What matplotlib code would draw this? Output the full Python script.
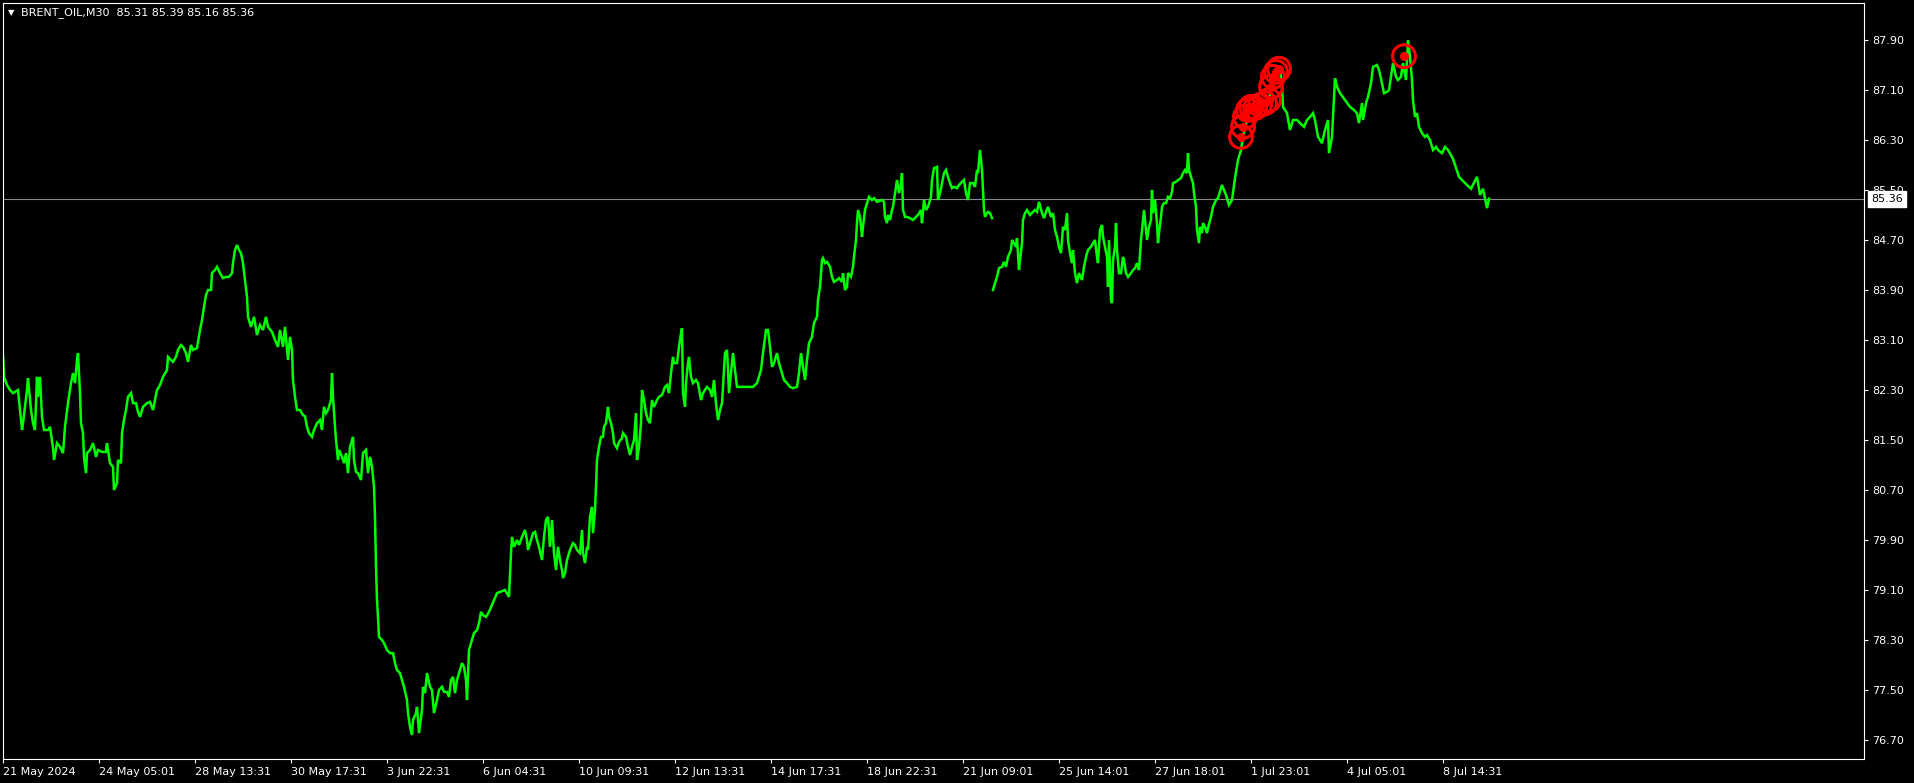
import numpy as np
import matplotlib
matplotlib.use("Agg")
from matplotlib import pyplot as plt

# M30 bar index (0 = first bar on chart) and close price
bars_a = [0, 1, 4, 7, 10, 15, 19, 20, 24, 25, 28, 30, 32, 34, 35, 37, 39, 41, 45, 47,
          50, 51, 54, 57, 60, 62, 65, 68, 70, 72, 74, 75, 77, 78, 80, 81, 83, 84, 87, 90,
          93, 95, 99, 103, 104, 107, 110, 111, 114, 115, 118, 119, 121, 123, 125, 128, 130, 133, 135, 137,
          140, 144, 147, 150, 152, 154, 157, 160, 164, 165, 168, 170, 173, 175, 178, 180, 183, 185, 188, 190,
          194, 197, 199, 201, 203, 205, 208, 209, 212, 214, 217, 220, 223, 226, 229, 230, 232, 234, 236, 238,
          240, 242, 244, 245,
          248, 251, 254, 257, 260, 263, 265, 269, 272, 275, 277, 280, 282, 285, 287, 289, 290, 292, 294, 297,
          300, 302, 304, 306, 309, 311, 314, 317, 319, 321, 323, 325, 328, 329, 330, 332, 333, 335, 336, 339,
          341, 343, 345, 347, 350, 351, 353, 355, 358, 360, 363, 365, 367, 369, 371, 372, 373, 374, 375, 376,
          379, 381, 384, 387, 390, 392, 394, 397, 399, 401, 404, 405, 407, 409, 410, 413, 414, 416, 419, 420,
          422, 424, 427, 429, 431, 434, 436, 439, 441, 444, 446, 448, 450, 452, 454, 456, 459, 461, 463, 464,
          466, 469, 471, 474, 476, 478, 480, 483, 486,
          494, 502, 506, 508, 509, 511, 514, 516, 519, 522, 524, 525, 528, 530, 532, 534, 536, 539, 541, 543,
          545, 547, 549, 551, 553, 555, 557, 559, 560, 562, 564, 567, 570, 572, 574, 577, 579, 580, 582, 584,
          585, 587, 589, 590, 592, 593, 594, 596, 598, 600, 601, 603, 605, 606, 608, 610, 611, 614, 616, 619,
          620, 623, 625, 627, 629, 631, 633, 634, 636, 638, 639, 641, 643, 645, 647, 649, 651, 654, 656, 659,
          662, 664, 666, 668, 670, 671, 674, 676, 678, 679, 680, 682, 683, 685, 686, 688, 690, 693, 695, 698,
          700, 704, 707, 709, 711, 713, 715, 717, 719, 720, 722, 724, 725, 726,
          730, 732, 734, 744, 750, 754, 758, 760, 763, 765, 767, 769, 771, 774, 776, 779, 781, 784, 787, 790,
          794, 796, 798, 800, 802, 804, 806, 809, 811, 814, 815, 817, 819, 820, 822, 824, 827, 829, 831, 834,
          836, 839, 840, 842, 844, 845, 848, 850, 851, 853, 854, 855, 857, 859, 860, 862, 864, 866, 869, 871,
          874, 876, 879, 881, 882, 884, 885, 887, 889, 890, 892, 894, 896, 898, 899, 900, 902, 904, 907, 910,
          913, 915, 918, 919, 921, 923, 925, 928, 929, 931, 934, 935, 937, 939, 941, 943, 945, 947, 949, 951,
          954, 956, 959, 961, 963, 965, 967, 970, 972, 974, 975, 977, 979, 980, 981, 982, 984, 985, 987, 989]
close_a = [82.86, 82.51, 82.38, 82.30, 82.25, 82.30, 81.66, 81.77, 82.30, 82.49, 81.98, 81.77, 81.66, 82.51, 82.19, 82.51, 81.87, 81.66, 81.66, 81.71,
           81.37, 81.18, 81.45, 81.39, 81.29, 81.71, 82.09, 82.41, 82.57, 82.41, 82.78, 82.89, 82.25, 81.77, 81.61, 81.23, 80.97, 81.29, 81.34, 81.45,
           81.23, 81.34, 81.31, 81.31, 81.45, 81.13, 81.07, 80.70, 80.81, 81.18, 81.13, 81.61, 81.82, 81.98, 82.19, 82.25, 82.09, 82.09, 81.95, 81.87,
           82.03, 82.09, 82.11, 81.98, 82.14, 82.30, 82.38, 82.51, 82.62, 82.83, 82.78, 82.75, 82.83, 82.94, 83.02, 82.99, 82.89, 82.75, 83.02, 82.94,
           82.97, 83.26, 83.42, 83.63, 83.82, 83.90, 83.90, 84.17, 84.22, 84.27, 84.17, 84.09, 84.11, 84.11, 84.17, 84.33, 84.54, 84.62, 84.54, 84.49,
           84.33, 84.06, 83.79, 83.47,
           83.31, 83.47, 83.18, 83.34, 83.26, 83.47, 83.31, 83.23, 83.10, 82.99, 83.26, 82.99, 83.31, 82.78, 83.15, 82.94, 82.46, 82.19, 81.98, 81.98,
           81.90, 81.88, 81.71, 81.61, 81.55, 81.66, 81.77, 81.82, 81.66, 82.03, 81.93, 81.98, 82.14, 82.57, 82.19, 81.71, 81.50, 81.18, 81.34, 81.23,
           81.13, 81.29, 80.97, 81.39, 81.55, 81.18, 80.99, 80.97, 80.86, 81.29, 81.34, 80.97, 81.23, 81.07, 80.75, 80.27, 79.47, 78.94, 78.67, 78.35,
           78.30, 78.25, 78.14, 78.09, 78.09, 77.93, 77.82, 77.77, 77.66, 77.55, 77.34, 77.13, 76.91, 76.78, 77.02, 77.13, 77.23, 76.81, 77.18, 77.55,
           77.45, 77.77, 77.55, 77.50, 77.13, 77.34, 77.50, 77.55, 77.47, 77.47, 77.39, 77.66, 77.71, 77.45, 77.66, 77.77, 77.93, 77.87, 77.66, 77.34,
           78.14, 78.30, 78.41, 78.46, 78.57, 78.75, 78.70, 78.67, 78.75,
           79.05, 79.10, 78.99, 79.69, 79.95, 79.79, 79.90, 79.82, 79.95, 80.06, 79.90, 79.74, 79.90, 80.01, 80.03, 79.90, 79.79, 79.58, 79.95, 80.22,
           80.27, 79.79, 80.22, 79.69, 79.42, 79.79, 79.58, 79.42, 79.29, 79.37, 79.58, 79.74, 79.85, 79.82, 79.74, 79.69, 80.06, 79.69, 79.53, 79.79,
           79.74, 80.27, 80.43, 80.01, 80.38, 80.75, 81.18, 81.39, 81.55, 81.55, 81.71, 81.77, 82.03, 81.87, 81.77, 81.61, 81.45, 81.37, 81.47, 81.53,
           81.61, 81.55, 81.39, 81.26, 81.39, 81.50, 81.93, 81.18, 81.39, 81.77, 82.30, 82.14, 81.93, 81.82, 81.77, 82.14, 82.03, 82.14, 82.19, 82.22,
           82.35, 82.38, 82.25, 82.57, 82.83, 82.73, 82.73, 82.99, 83.21, 83.29, 82.25, 82.03, 82.41, 82.73, 82.83, 82.51, 82.41, 82.46, 82.41, 82.14,
           82.25, 82.35, 82.30, 82.19, 82.46, 82.09, 81.82, 81.98, 82.09, 82.35, 82.89, 82.94, 82.62, 82.25,
           82.89, 82.62, 82.35, 82.35, 82.35, 82.41, 82.62, 82.89, 83.26, 83.26, 82.99, 82.67, 82.73, 82.89, 82.73, 82.57, 82.46, 82.41, 82.35, 82.33,
           82.35, 82.57, 82.89, 82.67, 82.46, 82.78, 83.05, 83.15, 83.37, 83.47, 83.74, 83.95, 84.38, 84.41, 84.33, 84.35, 84.27, 84.11, 84.03, 84.06,
           84.09, 84.03, 84.17, 83.90, 83.95, 84.17, 84.11, 84.27, 84.43, 84.70, 84.97, 85.18, 85.07, 84.75, 84.91, 85.18, 85.29, 85.39, 85.34, 85.37,
           85.31, 85.32, 85.34, 85.31, 85.07, 84.97, 85.10, 85.02, 85.18, 85.23, 85.45, 85.66, 85.45, 85.61, 85.77, 85.18, 85.07, 85.07, 85.05, 85.02,
           85.07, 85.10, 85.18, 84.97, 85.34, 85.18, 85.23, 85.39, 85.66, 85.85, 85.87, 85.34, 85.45, 85.61, 85.77, 85.82, 85.71, 85.61, 85.53, 85.55,
           85.53, 85.58, 85.63, 85.66, 85.45, 85.34, 85.61, 85.61, 85.55, 85.82, 85.77, 86.14, 85.82, 85.50, 85.18, 85.07, 85.13, 85.15, 85.13, 85.05]

# after the gap on 21 Jun
bars_b = [990, 992, 994, 996, 999, 1001, 1003, 1005, 1008, 1009, 1011, 1013, 1014, 1016, 1017, 1019, 1020, 1022, 1024, 1027,
          1030, 1032, 1034, 1036, 1039, 1041, 1043, 1045, 1048, 1050, 1052, 1054, 1056, 1058, 1060, 1062, 1064, 1065, 1067, 1069,
          1070, 1072, 1074, 1076, 1079, 1081, 1083, 1085, 1088, 1090, 1092, 1094, 1095, 1097, 1099, 1100, 1102, 1104, 1105, 1106,
          1108, 1109, 1110, 1112, 1113, 1114, 1116, 1118, 1120, 1121, 1123, 1125, 1128, 1130, 1132, 1134, 1136, 1138, 1139, 1141,
          1143, 1144, 1146, 1148, 1149, 1150, 1152, 1154, 1155, 1156, 1158, 1159, 1161, 1163, 1165, 1167, 1169, 1170, 1173, 1175,
          1178, 1180, 1182, 1184, 1185, 1186, 1188, 1190, 1191, 1193, 1194, 1196, 1197, 1199, 1200, 1202, 1204, 1205, 1208, 1210,
          1213, 1215, 1219, 1223, 1226, 1229, 1232, 1235, 1238, 1240, 1244, 1247, 1251, 1255, 1259, 1264, 1267, 1269, 1272, 1275,
          1277, 1279, 1280, 1284, 1287, 1290, 1294, 1297, 1301, 1304, 1307, 1310, 1312, 1315, 1319, 1322, 1325, 1326, 1329, 1332,
          1334, 1337, 1342, 1347, 1351, 1354, 1356, 1359, 1360, 1363, 1365, 1368, 1370, 1374, 1376, 1379, 1381, 1384, 1386, 1389,
          1390, 1393, 1395, 1398, 1400, 1403, 1405, 1407, 1409, 1410, 1412, 1414, 1416, 1419, 1422, 1424, 1427, 1430, 1433, 1435,
          1439, 1442, 1445, 1450, 1456, 1462, 1468, 1474, 1477, 1480, 1484, 1486]
close_b = [83.90, 84.01, 84.11, 84.25, 84.27, 84.35, 84.27, 84.43, 84.54, 84.70, 84.65, 84.59, 84.73, 84.22, 84.38, 84.65, 85.02, 85.13, 85.18, 85.10,
           85.15, 85.18, 85.15, 85.31, 85.13, 85.05, 85.15, 85.23, 85.07, 85.13, 84.86, 84.75, 84.59, 84.49, 84.91, 84.86, 85.13, 84.70, 84.49, 84.33,
           84.54, 84.17, 84.01, 84.17, 84.06, 84.27, 84.43, 84.54, 84.59, 84.65, 84.70, 84.43, 84.33, 84.86, 84.94, 84.75, 84.59, 84.43, 83.95, 84.70,
           83.74, 83.69, 84.38, 84.59, 84.97, 84.54, 84.17, 84.17, 84.43, 84.38, 84.17, 84.11, 84.17, 84.22, 84.25, 84.33, 84.22, 84.70, 84.86, 85.18,
           84.86, 84.70, 84.91, 85.02, 85.50, 85.13, 85.34, 84.97, 84.65, 84.81, 85.07, 85.23, 85.29, 85.29, 85.39, 85.37, 85.47, 85.61, 85.63, 85.66,
           85.69, 85.77, 85.82, 85.77, 86.09, 85.82, 85.71, 85.61, 85.45, 85.23, 84.86, 84.65, 84.91, 84.81, 84.97, 84.91, 84.81, 84.89, 85.07, 85.23,
           85.34, 85.37, 85.58, 85.42, 85.26, 85.34, 85.69, 85.98, 86.14, 86.35, 86.62, 86.83, 86.86, 86.83, 86.94, 86.89, 87.02, 87.15, 87.37, 87.45,
           87.45, 87.15, 86.83, 86.73, 86.46, 86.62, 86.62, 86.57, 86.51, 86.62, 86.67, 86.73, 86.62, 86.35, 86.25, 86.46, 86.62, 86.09, 86.35, 87.29,
           87.15, 87.05, 86.94, 86.83, 86.78, 86.73, 86.57, 86.89, 86.62, 86.89, 86.99, 87.21, 87.47, 87.50, 87.42, 87.21, 87.05, 87.07, 87.10, 87.42,
           87.53, 87.31, 87.26, 87.31, 87.53, 87.26, 87.90, 87.63, 87.26, 86.94, 86.67, 86.73, 86.51, 86.41, 86.35, 86.38, 86.30, 86.14, 86.19, 86.14,
           86.09, 86.19, 86.14, 86.00, 85.71, 85.61, 85.52, 85.71, 85.42, 85.52, 85.21, 85.36]

# signal circles
sig_bars = [1238, 1240, 1242, 1245, 1248, 1252, 1257, 1262, 1266, 1268, 1270, 1273, 1276, 1401]
sig_price = [86.35, 86.51, 86.67, 86.78, 86.83, 86.81, 86.86, 86.89, 86.94, 87.15, 87.31, 87.39, 87.44, 87.64]

tick_bars = [0, 96, 192, 288, 384, 480, 576, 672, 768, 864, 960, 1056, 1152, 1248, 1344, 1440]
tick_labels = ["21 May 2024", "24 May 05:01", "28 May 13:31", "30 May 17:31", "3 Jun 22:31",
               "6 Jun 04:31", "10 Jun 09:31", "12 Jun 13:31", "14 Jun 17:31", "18 Jun 22:31",
               "21 Jun 09:01", "25 Jun 14:01", "27 Jun 18:01", "1 Jul 23:01", "4 Jul 05:01", "8 Jul 14:31"]
price_ticks = [76.70, 77.50, 78.30, 79.10, 79.90, 80.70, 81.50, 82.30, 83.10, 83.90,
               84.70, 85.50, 86.30, 87.10, 87.90]
last_price = 85.36
ohlc_text = "BRENT_OIL,M30  85.31 85.39 85.16 85.36"

W, H = 1914, 783
fig = plt.figure(figsize=(W / 100, H / 100), dpi=100, facecolor="black")
ax = fig.add_axes([3 / W, 24 / H, 1861 / W, 756 / H])
ax.set_facecolor("black")

x = np.array(bars_a + [np.nan] + bars_b, dtype=float)
y = np.array(close_a + [np.nan] + close_b, dtype=float)
ax.plot(x, y, color="#00ff00", lw=1.8, solid_joinstyle="miter")

ax.axhline(last_price, color="#8a8a92", lw=0.8, zorder=1)

ax.scatter(sig_bars, sig_price, s=270, facecolors="none", edgecolors="#ff0000", linewidths=2.2, zorder=4)
ax.scatter(sig_bars, sig_price, s=30, color="#ff0000", zorder=4)

ax.set_xlim(0, 1861)
ax.set_ylim(76.396, 88.492)

for sp in ax.spines.values():
    sp.set_color("white")
    sp.set_linewidth(0.8)

ax.yaxis.tick_right()
ax.set_yticks(price_ticks)
ax.set_yticklabels([f"{p:.2f}" for p in price_ticks])
ax.set_xticks(tick_bars)
ax.set_xticklabels(tick_labels, ha="left")
ax.tick_params(axis="both", colors="white", labelcolor="white", labelsize=8,
               direction="out", length=3, width=0.8)
ax.tick_params(axis="y", pad=3)
ax.tick_params(axis="x", pad=3)

# current price box on the price scale
ax.text(1 + 7 / 1861, last_price, f"{last_price:.2f}", transform=ax.get_yaxis_transform(),
        ha="left", va="center", color="black", fontsize=8, zorder=10, clip_on=False,
        bbox=dict(boxstyle="square,pad=0.25", facecolor="white", edgecolor="white"))

fig.text(11 / W, 1 - 13 / H, "\u25bc", color="white", fontsize=6, ha="center", va="center")
fig.text(21 / W, 1 - 13 / H, ohlc_text, color="white", fontsize=8, ha="left", va="center")

fig.savefig("out.png", dpi=100, facecolor="black")
